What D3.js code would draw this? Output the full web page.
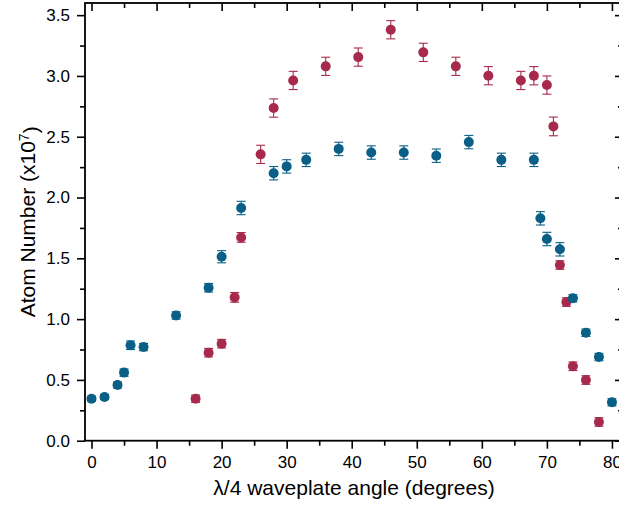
<!DOCTYPE html>
<html>
<head>
<meta charset="utf-8">
<script src="https://cdn.jsdelivr.net/npm/d3@7"></script>
<style>
  html, body { margin: 0; padding: 0; background: #fff; }
  svg { display: block; }
  text { font-family: "Liberation Sans", Arial, sans-serif; fill: #000; }
</style>
</head>
<body>
<svg id="chart" width="619" height="505"></svg>
<script>
// ---- data ----
const blueAngles = [0, 2, 4, 5, 6, 8, 13, 18, 20, 23, 28, 30, 33, 38, 43, 48, 53, 58, 63, 68, 69, 70, 72, 74, 76, 78, 80];
const blueValues = [0.345, 0.36, 0.458, 0.56, 0.785, 0.77, 1.03, 1.258, 1.513, 1.914, 2.20, 2.256, 2.31, 2.40, 2.37, 2.37, 2.344, 2.456, 2.31, 2.31, 1.829, 1.659, 1.574, 1.171, 0.888, 0.688, 0.316];
const blueErrors = [0.02, 0.02, 0.025, 0.03, 0.035, 0.03, 0.03, 0.035, 0.05, 0.055, 0.055, 0.055, 0.055, 0.055, 0.055, 0.055, 0.055, 0.055, 0.055, 0.055, 0.055, 0.055, 0.055, 0.03, 0.03, 0.03, 0.03];

const redAngles = [16, 18, 20, 22, 23, 26, 28, 31, 36, 41, 46, 51, 56, 61, 66, 68, 70, 71, 72, 73, 74, 76, 78];
const redValues = [0.345, 0.724, 0.798, 1.179, 1.672, 2.355, 2.736, 2.963, 3.079, 3.155, 3.38, 3.194, 3.079, 3.002, 2.963, 3.002, 2.925, 2.585, 1.445, 1.14, 0.612, 0.499, 0.154];
const redErrors = [0.03, 0.035, 0.035, 0.04, 0.04, 0.075, 0.075, 0.075, 0.075, 0.075, 0.075, 0.075, 0.075, 0.075, 0.075, 0.075, 0.075, 0.077, 0.035, 0.035, 0.035, 0.035, 0.035];

const xMajorTicks = [0, 10, 20, 30, 40, 50, 60, 70, 80];
const xMinorTicks = [5, 15, 25, 35, 45, 55, 65, 75];
const yMajorTicks = [0.0, 0.5, 1.0, 1.5, 2.0, 2.5, 3.0, 3.5];
const yMinorTicks = [0.25, 0.75, 1.25, 1.75, 2.25, 2.75, 3.25];

const xLabel = "λ/4 waveplate angle (degrees)";
const yLabelMain = "Atom Number (x10";
const yLabelSup = "7";

// ---- layout ----
const svg = d3.select("#chart");
const L = 85, R = 623, T = 3, B = 440.7;
const x = d3.scaleLinear().domain([-1, 81.7]).range([L, R]);
const y = d3.scaleLinear().domain([0, 3.6]).range([B, T]);

const blueColor = "#0a5f86";
const redColor = "#a72a4d";
const tickFont = "17px";

// axes: bottom
const gB = svg.append("g").attr("transform", `translate(0,${B})`);
gB.call(d3.axisBottom(x).tickValues(xMajorTicks).tickSize(8).tickPadding(7.5).tickSizeOuter(0).tickFormat(d3.format("d")));
gB.append("g").call(d3.axisBottom(x).tickValues(xMinorTicks).tickSize(5).tickFormat("").tickSizeOuter(0));
// left
const gL = svg.append("g").attr("transform", `translate(${L},0)`);
gL.call(d3.axisLeft(y).tickValues(yMajorTicks).tickSize(8).tickPadding(7).tickSizeOuter(0).tickFormat(d3.format(".1f")));
gL.append("g").call(d3.axisLeft(y).tickValues(yMinorTicks).tickSize(5).tickFormat("").tickSizeOuter(0));
// top (inward ticks)
const gT = svg.append("g").attr("transform", `translate(0,${T})`);
gT.call(d3.axisBottom(x).tickValues(xMajorTicks).tickSize(8).tickFormat("").tickSizeOuter(0));
gT.append("g").call(d3.axisBottom(x).tickValues(xMinorTicks).tickSize(5).tickFormat("").tickSizeOuter(0));
// right (inward ticks)
const gR = svg.append("g").attr("transform", `translate(${R},0)`);
gR.call(d3.axisLeft(y).tickValues(yMajorTicks).tickSize(8).tickFormat("").tickSizeOuter(0));
gR.append("g").call(d3.axisLeft(y).tickValues(yMinorTicks).tickSize(5).tickFormat("").tickSizeOuter(0));

svg.selectAll(".domain").remove();
svg.selectAll(".tick line").attr("stroke", "#000").attr("stroke-width", 1.6);
svg.selectAll(".tick text").style("font-size", tickFont).attr("fill", "#000");

// frame
svg.append("rect").attr("x", L).attr("y", T).attr("width", R - L).attr("height", B - T)
  .attr("fill", "none").attr("stroke", "#000").attr("stroke-width", 1.8);

// ---- series ----
function drawSeries(angles, values, errors, color) {
  const data = angles.map((a, i) => ({ a, v: values[i], e: errors[i] }));
  const g = svg.append("g");
  const cap = 4.5;
  const eb = g.selectAll("g.eb").data(data).join("g").attr("class", "eb")
    .attr("stroke", color).attr("stroke-width", 1.1);
  eb.append("line").attr("x1", d => x(d.a)).attr("x2", d => x(d.a))
    .attr("y1", d => y(d.v + d.e)).attr("y2", d => y(d.v - d.e));
  eb.append("line").attr("x1", d => x(d.a) - cap).attr("x2", d => x(d.a) + cap)
    .attr("y1", d => y(d.v + d.e)).attr("y2", d => y(d.v + d.e));
  eb.append("line").attr("x1", d => x(d.a) - cap).attr("x2", d => x(d.a) + cap)
    .attr("y1", d => y(d.v - d.e)).attr("y2", d => y(d.v - d.e));
  g.selectAll("circle").data(data).join("circle")
    .attr("cx", d => x(d.a)).attr("cy", d => y(d.v)).attr("r", 5)
    .attr("fill", color);
}
drawSeries(redAngles, redValues, redErrors, redColor);
drawSeries(blueAngles, blueValues, blueErrors, blueColor);

// ---- labels ----
svg.append("text").attr("x", (L + R) / 2).attr("y", 495)
  .attr("text-anchor", "middle").style("font-size", "21px").text(xLabel);

const yl = svg.append("text")
  .attr("transform", `translate(35,${(T + B) / 2}) rotate(-90)`)
  .attr("text-anchor", "middle").style("font-size", "21px");
yl.append("tspan").text(yLabelMain);
yl.append("tspan").attr("dy", "-0.45em").style("font-size", "14px").text(yLabelSup);
yl.append("tspan").attr("dy", "0.45em").text(")");
</script>
</body>
</html>
